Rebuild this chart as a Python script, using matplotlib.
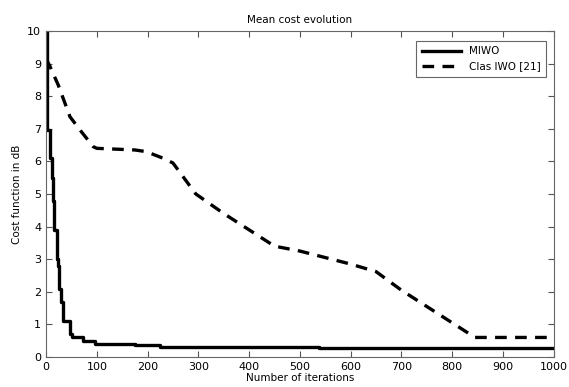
import matplotlib
matplotlib.use("Agg")
import matplotlib.pyplot as plt

# MIWO (step curve)
miwo_x = [0, 1, 2, 8, 11, 14, 16, 20, 22, 24, 26, 30, 34, 45, 48, 52, 69, 73, 96, 176, 224, 537, 1000]
miwo_y = [10, 9.2, 6.95, 6.1, 5.5, 4.8, 3.9, 3.9, 3.0, 2.8, 2.1, 1.7, 1.1, 1.1, 0.7, 0.6, 0.6, 0.5, 0.4, 0.37, 0.32, 0.29, 0.29]

# Classical IWO
iwo_x = [0, 8, 24, 47, 70, 93, 100, 175, 197, 230, 250, 295, 350, 400, 450, 500, 550, 600, 650, 700, 750, 800, 845, 1000]
iwo_y = [9.15, 8.9, 8.34, 7.37, 6.9, 6.45, 6.4, 6.35, 6.3, 6.1, 5.95, 5.0, 4.4, 3.9, 3.4, 3.25, 3.05, 2.85, 2.62, 2.05, 1.55, 1.05, 0.6, 0.6]

xticks = list(range(0, 1001, 100))
yticks = list(range(0, 11))

fig = plt.figure(figsize=(5.69, 3.87), dpi=100)
ax = fig.add_axes([0.081, 0.0775, 0.892, 0.8425])

ax.step(miwo_x, miwo_y, where="post", color="black", lw=2.4, label="MIWO")
ax.plot(iwo_x, iwo_y, color="black", lw=2.4, ls=(0, (3.5, 2.5)), label="Clas IWO [21]")

ax.set_xlim(0, 1000)
ax.set_ylim(0, 10)
ax.set_xticks(xticks)
ax.set_yticks(yticks)
ax.tick_params(direction="in", top=True, right=True, labelsize=8, length=4, color="#555555")
for s in ax.spines.values():
    s.set_color("#666666")
    s.set_linewidth(0.8)

ax.set_title("Mean cost evolution", fontsize=7.5, pad=6)
ax.set_xlabel("Number of iterations", fontsize=7.5, labelpad=1)
ax.set_ylabel("Cost function in dB", fontsize=7.5, labelpad=4)

leg = ax.legend(loc="upper right", fontsize=7.5, fancybox=False, framealpha=1,
                edgecolor="#666666", handlelength=3.8, borderpad=0.5,
                bbox_to_anchor=(0.996, 0.985))
leg.get_frame().set_linewidth(0.8)

fig.savefig("out.png", dpi=100)
